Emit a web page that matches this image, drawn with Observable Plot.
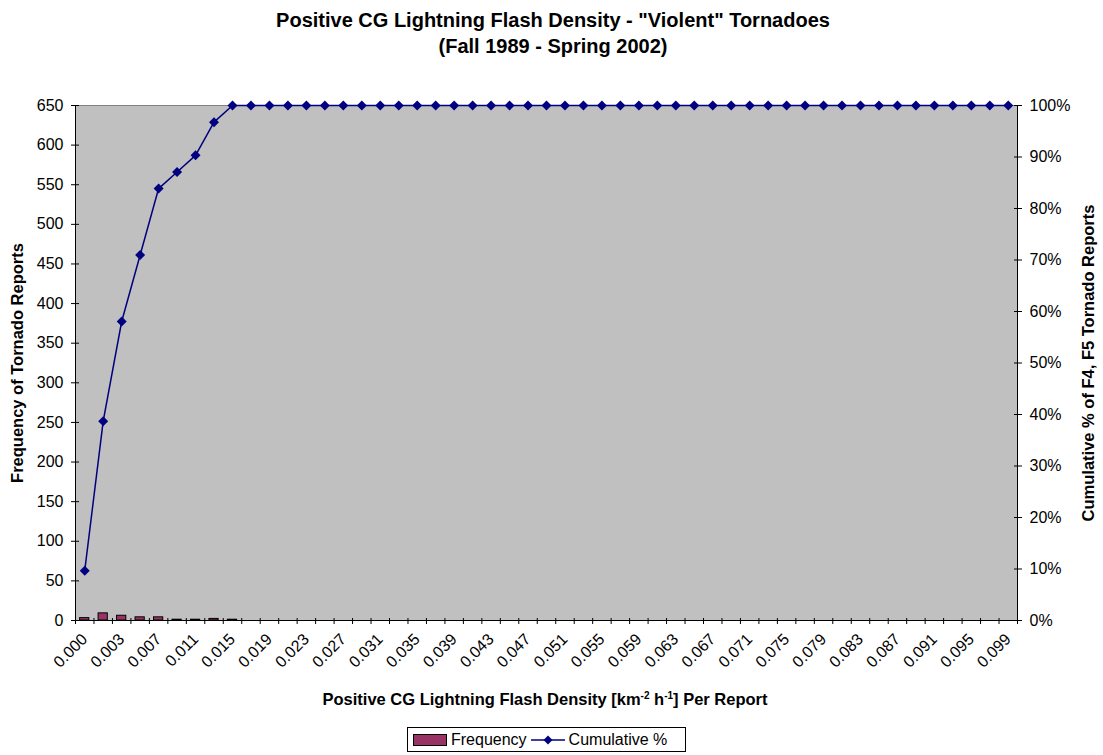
<!DOCTYPE html>
<html>
<head>
<meta charset="utf-8">
<script src="https://cdn.jsdelivr.net/npm/d3@7"></script>
<script src="https://cdn.jsdelivr.net/npm/@observablehq/plot@0.6"></script>
<style>
  html, body { margin: 0; padding: 0; background: #fff; }
  body { position: relative; width: 1103px; height: 755px; overflow: hidden;
         font-family: "Liberation Sans", Arial, Helvetica, sans-serif; color: #000; }
  #title { position: absolute; left: 0; top: 7px; width: 1106px; text-align: center;
           font-weight: bold; font-size: 20px; line-height: 26px; }
  #chart { position: absolute; left: 0; top: 65px; }
  #xtitle { position: absolute; left: 0; top: 690px; width: 1090px; text-align: center;
            font-weight: bold; font-size: 16.5px; }
  #xtitle sup { font-size: 10px; vertical-align: 6px; line-height: 0; }
  #legend { position: absolute; left: 407px; top: 727px; width: 279px; height: 25px;
            border: 1px solid #000; box-sizing: border-box; display: flex; align-items: center;
            font-size: 16px; padding-left: 5px; }
  #legend svg { display: block; }
  #legend span { margin: 0 4px 0 4px; }
</style>
</head>
<body>
<div id="title">Positive CG Lightning Flash Density - "Violent" Tornadoes<br>(Fall 1989 - Spring 2002)</div>
<div id="chart"></div>
<div id="xtitle">Positive CG Lightning Flash Density [km<sup>-2</sup> h<sup>-1</sup>] Per Report</div>
<div id="legend">
  <svg width="34" height="12"><rect x="0.5" y="0.5" width="33" height="11" fill="#993366" stroke="#000"/></svg>
  <span>Frequency</span>
  <svg width="34" height="12"><line x1="0" y1="6" x2="34" y2="6" stroke="#000080" stroke-width="1.5"/><path d="M17,1.5L21.5,6L17,10.5L12.5,6Z" fill="#000080"/></svg>
  <span>Cumulative %</span>
</div>
<script>
// Flash-density bins (km^-2 h^-1 per report)
const binLabels = [
  "0.000","0.001","0.003","0.005","0.007","0.009","0.011","0.013","0.015","0.017",
  "0.019","0.021","0.023","0.025","0.027","0.029","0.031","0.033","0.035","0.037",
  "0.039","0.041","0.043","0.045","0.047","0.049","0.051","0.053","0.055","0.057",
  "0.059","0.061","0.063","0.065","0.067","0.069","0.071","0.073","0.075","0.077",
  "0.079","0.081","0.083","0.085","0.087","0.089","0.091","0.093","0.095","0.097",
  "0.099"
];

// Number of F4/F5 tornado reports in each bin
const frequency = [
  3, 9, 6, 4, 4, 1, 1, 2, 1, 0,
  0, 0, 0, 0, 0, 0, 0, 0, 0, 0,
  0, 0, 0, 0, 0, 0, 0, 0, 0, 0,
  0, 0, 0, 0, 0, 0, 0, 0, 0, 0,
  0, 0, 0, 0, 0, 0, 0, 0, 0, 0,
  0
];

// Cumulative percentage of reports
const cumulativePct = [
  9.68, 38.71, 58.06, 70.97, 83.87, 87.10, 90.32, 96.77, 100, 100,
  100, 100, 100, 100, 100, 100, 100, 100, 100, 100,
  100, 100, 100, 100, 100, 100, 100, 100, 100, 100,
  100, 100, 100, 100, 100, 100, 100, 100, 100, 100,
  100, 100, 100, 100, 100, 100, 100, 100, 100, 100,
  100
];

const freqTicks = [0, 50, 100, 150, 200, 250, 300, 350, 400, 450, 500, 550, 600, 650];
const pctTicks = [0, 10, 20, 30, 40, 50, 60, 70, 80, 90, 100];

const yMax = 650;
const pctToFreq = p => p / 100 * yMax;

const rows = binLabels.map((label, i) => ({
  i, label, freq: frequency[i], pct: cumulativePct[i]
}));

const boundaries = d3.range(-0.5, binLabels.length, 1);
const labelIdx = d3.range(0, binLabels.length, 2);

const chart = Plot.plot({
  width: 1103,
  height: 655,
  marginTop: 40,
  marginBottom: 100,
  marginLeft: 75,
  marginRight: 86,
  style: { fontFamily: "'Liberation Sans', Arial, sans-serif", fontSize: "16px", color: "#000", background: "transparent", overflow: "visible" },
  x: { type: "linear", domain: [-0.5, binLabels.length - 0.5] },
  y: { domain: [0, yMax] },
  marks: [
    Plot.frame({ fill: "#C0C0C0", stroke: "#808080" }),
    // frequency bars
    Plot.rectY(rows.filter(d => d.freq > 0), {
      x1: d => d.i - 0.25, x2: d => d.i + 0.25, y: "freq",
      fill: "#993366", stroke: "#000", strokeWidth: 1
    }),
    // cumulative % line on the secondary scale
    Plot.line(rows, { x: "i", y: d => pctToFreq(d.pct), stroke: "#000080", strokeWidth: 1.5 }),
    Plot.dot(rows, { x: "i", y: d => pctToFreq(d.pct), symbol: "diamond2", r: 4.5, fill: "#000080", stroke: "none" }),
    // axis lines
    Plot.frame({ anchor: "left", stroke: "#000" }),
    Plot.frame({ anchor: "right", stroke: "#000" }),
    Plot.ruleY([0], { stroke: "#000" }),
    // left axis (frequency)
    Plot.axisY({ anchor: "left", ticks: freqTicks, tickSize: 4, tickPadding: 8, label: null }),
    Plot.axisY({ anchor: "left", ticks: freqTicks, tickSize: -4, tickFormat: () => "", label: null }),
    // right axis (cumulative %)
    Plot.axisY({ anchor: "right", ticks: pctTicks.map(pctToFreq), tickSize: 4, tickPadding: 8,
                 tickFormat: d => Math.round(d / yMax * 100) + "%", label: null }),
    Plot.axisY({ anchor: "right", ticks: pctTicks.map(pctToFreq), tickSize: -4, tickFormat: () => "", label: null }),
    // category boundary ticks
    Plot.axisX({ ticks: boundaries, tickSize: 4, tickFormat: () => "", label: null }),
    Plot.axisX({ ticks: boundaries, tickSize: -2, tickFormat: () => "", label: null }),
    // bin labels, every other category
    Plot.axisX({ ticks: labelIdx, tickSize: 0, tickPadding: 16, tickRotate: -45,
                 tickFormat: i => binLabels[i], label: null }),
    // axis titles
    Plot.text(["Frequency of Tornado Reports"], { frameAnchor: "left", dx: -58, rotate: -90,
      textAnchor: "middle", fontWeight: "bold", fontSize: 16.5, fill: "#000" }),
    Plot.text(["Cumulative % of F4, F5 Tornado Reports"], { frameAnchor: "right", dx: 71, rotate: -90,
      textAnchor: "middle", fontWeight: "bold", fontSize: 16.5, fill: "#000" })
  ]
});

document.getElementById("chart").appendChild(chart);
</script>
</body>
</html>
